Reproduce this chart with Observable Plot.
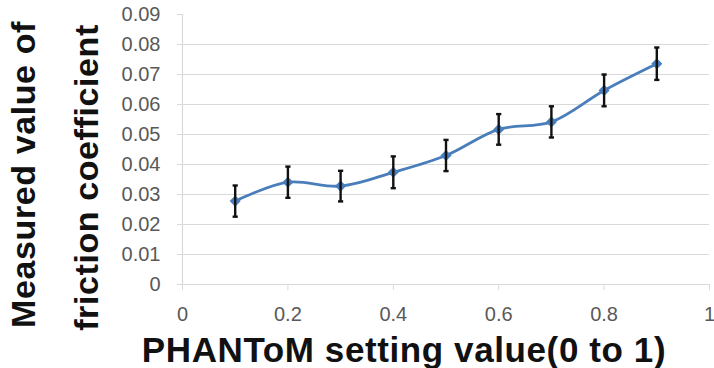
<!DOCTYPE html>
<html>
<head>
<meta charset="utf-8">
<script src="https://cdn.jsdelivr.net/npm/d3@7"></script>
<script src="https://cdn.jsdelivr.net/npm/@observablehq/plot@0.6"></script>
<style>
  html, body { margin: 0; padding: 0; background: #fff; }
  #chart svg { display: block; }
  #chart svg g.title text { letter-spacing: 0.6px; }
</style>
</head>
<body>
<div id="chart"></div>
<script>
// ---- data ----
const settings = [0.1, 0.2, 0.3, 0.4, 0.5, 0.6, 0.7, 0.8, 0.9];
const friction = [0.0278, 0.0341, 0.0328, 0.0374, 0.0430, 0.0517, 0.0542, 0.0647, 0.0736];
const errors   = [0.0052, 0.0052, 0.0051, 0.0053, 0.0052, 0.0051, 0.0052, 0.0053, 0.0054];
const xTicks = [0, 0.2, 0.4, 0.6, 0.8, 1];
const yTicks = [0, 0.01, 0.02, 0.03, 0.04, 0.05, 0.06, 0.07, 0.08, 0.09];
const xTitle = "PHANToM setting value(0 to 1)";
const yTitle1 = "Measured value of";
const yTitle2 = "friction coefficient";

const rows = settings.map((s, i) => ({x: s, y: friction[i], e: errors[i]}));

const blue = "#4a7ebb";
const grid = "#d9d9d9";
const tickText = "#595959";

// horizontal-line symbol for error-bar caps
const capSymbol = {
  draw(context, size) {
    const w = Math.sqrt(size / Math.PI);
    context.moveTo(-w, 0);
    context.lineTo(w, 0);
  }
};

const chart = Plot.plot({
  width: 714,
  height: 368,
  marginLeft: 182,
  marginRight: 5,
  marginTop: 14,
  marginBottom: 84,
  style: {fontFamily: "'Liberation Sans', Arial, sans-serif", background: "#fff", overflow: "visible"},
  x: {domain: [0, 1]},
  y: {domain: [0, 0.09]},
  marks: [
    Plot.gridY(yTicks.filter(t => t > 0 && t < 0.09), {stroke: grid, strokeOpacity: 1, strokeWidth: 1.2}),
    Plot.axisY({ticks: yTicks, tickSize: 5, tickPadding: 17, stroke: grid, strokeOpacity: 1, fill: tickText,
                fontSize: 20, tickFormat: d => String(d), label: null}),
    Plot.axisX({ticks: xTicks, tickSize: 6, tickPadding: 16, stroke: grid, strokeOpacity: 1, fill: tickText,
                fontSize: 20, tickFormat: d => String(d), label: null}),
    Plot.ruleY([0], {stroke: grid, strokeWidth: 1.2}),
    Plot.ruleX([0], {stroke: grid, strokeWidth: 1.2}),
    Plot.line(rows, {x: "x", y: "y", curve: "catmull-rom", stroke: blue, strokeWidth: 2.8}),
    Plot.dot(rows, {x: "x", y: "y", symbol: "diamond2", r: 5, fill: blue, stroke: "none"}),
    Plot.ruleX(rows, {x: "x", y1: d => d.y - d.e, y2: d => d.y + d.e, stroke: "#111", strokeWidth: 2.4}),
    Plot.dot(rows, {x: "x", y: d => d.y + d.e, symbol: capSymbol, r: 2.6, stroke: "#111", strokeWidth: 2.4, fill: "none"}),
    Plot.dot(rows, {x: "x", y: d => d.y - d.e, symbol: capSymbol, r: 2.6, stroke: "#111", strokeWidth: 2.4, fill: "none"}),
    Plot.text([xTitle], {text: d => d, frameAnchor: "bottom", textAnchor: "middle", lineAnchor: "bottom",
                         dx: -42, dy: 77, fontSize: 35, fontWeight: "bold", fill: "#111", className: "title"}),
    Plot.text([yTitle1], {text: d => d, frameAnchor: "left", textAnchor: "middle", lineAnchor: "bottom",
                          rotate: -90, dx: -148, dy: 25, fontSize: 34, fontWeight: "bold", fill: "#111", className: "title"}),
    Plot.text([yTitle2], {text: d => d, frameAnchor: "left", textAnchor: "middle", lineAnchor: "bottom",
                          rotate: -90, dx: -85, dy: 28, fontSize: 34, fontWeight: "bold", fill: "#111", className: "title"})
  ]
});

// ensure the title letter-spacing applies even if className is unsupported
const textGroups = chart.querySelectorAll('g[aria-label="text"]');
textGroups.forEach(g => g.querySelectorAll("text").forEach(t => t.style.letterSpacing = "0.6px"));

document.getElementById("chart").appendChild(chart);
</script>
</body>
</html>
